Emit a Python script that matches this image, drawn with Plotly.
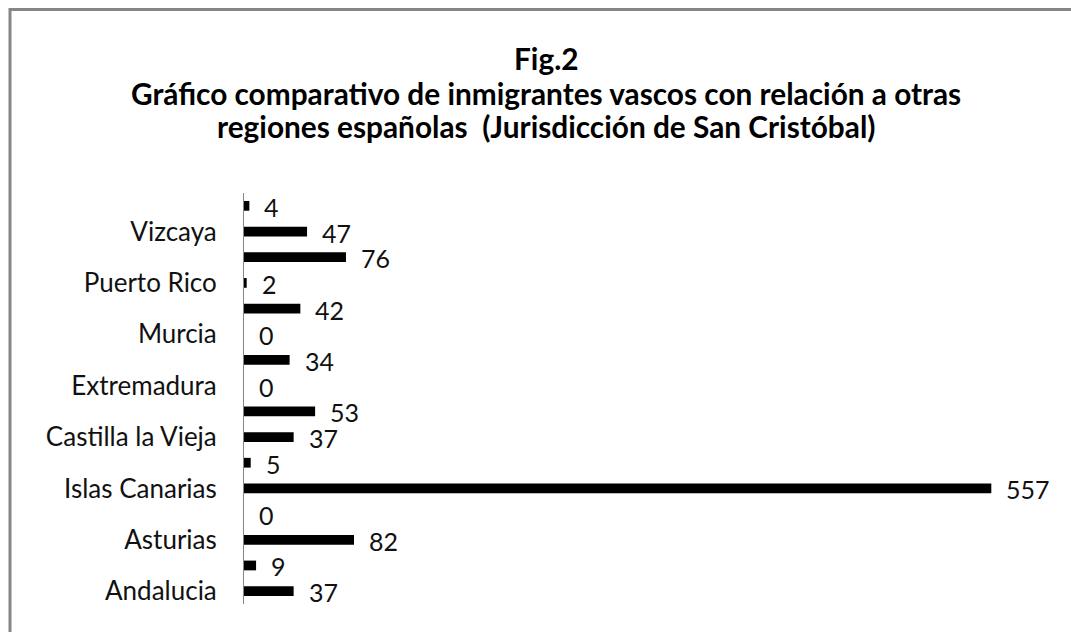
import plotly.graph_objects as go

# Data (bottom to top, as drawn)
values = [37, 9, 82, 0, 557, 5, 37, 53, 0, 34, 0, 42, 2, 76, 47, 4]
tick_positions = [0, 2, 4, 6, 8, 10, 12, 14]
tick_labels = ["Andalucia", "Asturias", "Islas Canarias", "Castilla la Vieja",
               "Extremadura", "Murcia", "Puerto Rico", "Vizcaya"]
title_lines = ["Fig.2",
               "Gráfico comparativo de inmigrantes vascos con relación a otras",
               "regiones españolas  (Jurisdicción de San Cristóbal)"]

positions = list(range(len(values)))

W, H = 1071, 632
L, R, T, B = 244, 22, 193, 28
pw = W - L - R
ph = H - T - B

FONT = "Lato"
BORDER = "#868686"


def px_x(x):
    return (x - L) / pw


def px_y(y):
    return (H - B - y) / ph


fig = go.Figure()
fig.add_trace(go.Bar(
    x=values, y=positions, orientation="h",
    marker=dict(color="#000000", line=dict(width=0)),
    width=0.38, hoverinfo="x",
))

annotations = []
for p, v in zip(positions, values):
    annotations.append(dict(
        x=v, y=p, xref="x", yref="y", text=str(v), showarrow=False,
        xanchor="left", yanchor="middle", xshift=13, yshift=-1,
        font=dict(family=FONT, size=25, color="#111111"),
    ))

title_y = [59, 93, 126]
for line, yy in zip(title_lines, title_y):
    annotations.append(dict(
        x=px_x(546), y=px_y(yy), xref="paper", yref="paper",
        text="<b>" + line + "</b>", showarrow=False,
        xanchor="center", yanchor="middle",
        font=dict(family=FONT, size=29.8, color="#000000"),
    ))

fig.update_layout(
    width=W, height=H,
    margin=dict(l=L, r=R, t=T, b=B, pad=0),
    paper_bgcolor="white", plot_bgcolor="white",
    showlegend=False,
    xaxis=dict(range=[0, 600], visible=False, showgrid=False, zeroline=False),
    yaxis=dict(
        range=[-0.5, len(values) - 0.5],
        tickmode="array", tickvals=tick_positions, ticktext=tick_labels,
        showgrid=False, zeroline=False,
        showline=True, linecolor=BORDER, linewidth=1,
        ticks="", ticklabelstandoff=21,
        tickfont=dict(family=FONT, size=26, color="#111111"),
    ),
    annotations=annotations,
    shapes=[
        dict(type="rect", xref="paper", yref="paper",
             x0=px_x(1054), x1=px_x(W + 20), y0=px_y(12), y1=px_y(H + 20),
             line=dict(width=0), fillcolor="white", layer="above"),
        dict(type="line", xref="paper", yref="paper",
             x0=px_x(10), x1=px_x(W + 20), y0=px_y(9.5), y1=px_y(9.5),
             line=dict(color=BORDER, width=3), layer="above"),
        dict(type="line", xref="paper", yref="paper",
             x0=px_x(10), x1=px_x(10), y0=px_y(8), y1=px_y(H + 20),
             line=dict(color=BORDER, width=3), layer="above"),
    ],
)

fig.write_html(
    "out.html",
    config={"displayModeBar": False},
    post_script=("document.body.style.margin='0';"
                 "document.body.style.overflow='hidden';"
                 "document.documentElement.style.overflow='hidden';"),
)
